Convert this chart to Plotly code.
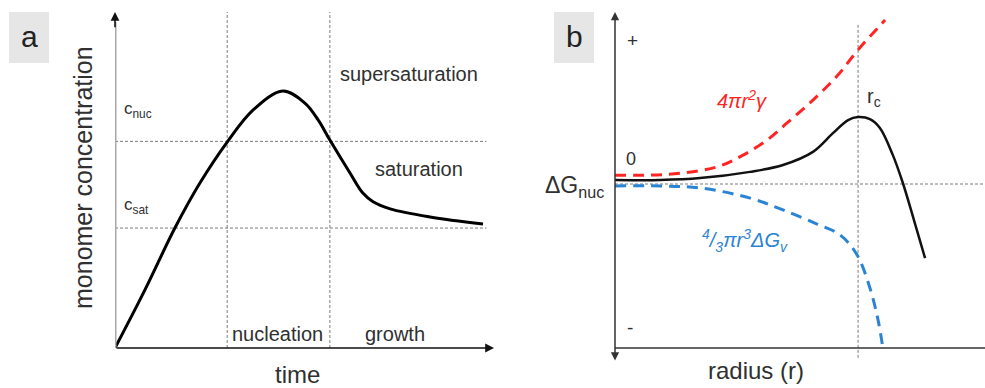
import plotly.graph_objects as go

W, H = 985, 388

# ---- panel a: monomer concentration versus time ----
time_a = [0, 0.79, 1.58, 2.24, 2.96, 3.64, 4.43, 5.01, 5.36, 5.67, 6.20, 6.54, 6.81, 7.26, 8.31, 9.71]
conc_a = [0, 1.73, 3.57, 4.91, 6.13, 7.08, 7.65, 7.29, 6.79, 6.19, 5.21, 4.61, 4.35, 4.14, 3.90, 3.69]
c_nuc = 6.15
c_sat = 3.57
t_nucleation = 2.96
t_growth = 5.67

# ---- panel b: free energy of nucleation versus radius ----
r_surface = [0, 0.95, 1.84, 2.76, 3.46, 4.11, 4.65, 5.35, 6.00, 6.57, 7.30]
g_surface = [0.27, 0.27, 0.34, 0.52, 0.88, 1.34, 1.86, 2.56, 3.29, 4.09, 5.00]

r_total = [0, 1.22, 2.30, 3.65, 4.54, 5.35, 5.89, 6.30, 6.57, 6.89, 7.16, 7.51, 7.78, 8.08, 8.38]
g_total = [0.12, 0.12, 0.18, 0.37, 0.58, 0.98, 1.55, 1.95, 2.04, 1.98, 1.71, 0.88, 0.03, -1.10, -2.26]

r_volume = [0, 1.22, 2.30, 3.65, 4.54, 5.46, 6.08, 6.54, 6.89, 7.11, 7.24]
g_volume = [-0.06, -0.06, -0.12, -0.43, -0.79, -1.22, -1.55, -2.16, -3.17, -4.15, -5.00]

r_critical = 6.57
g_floor = -5.0

RED = "#ff2424"
BLUE = "#2b83d3"
TEXT = "#303030"
FONT = "Liberation Sans"


def px(x):
    return x / W


def py(y):
    return 1 - y / H


fig = go.Figure()

fig.add_trace(go.Scatter(x=time_a, y=conc_a, mode="lines", line=dict(color="black", width=3, shape="spline"),
                         xaxis="x", yaxis="y", hoverinfo="skip"))
fig.add_trace(go.Scatter(x=r_surface, y=g_surface, mode="lines",
                         line=dict(color=RED, width=3, dash="11px,7px", shape="spline"),
                         xaxis="x2", yaxis="y2", hoverinfo="skip"))
fig.add_trace(go.Scatter(x=r_volume, y=g_volume, mode="lines",
                         line=dict(color=BLUE, width=3, dash="11px,7px", shape="spline"),
                         xaxis="x2", yaxis="y2", hoverinfo="skip"))
fig.add_trace(go.Scatter(x=r_total, y=g_total, mode="lines", line=dict(color="#111111", width=2.5, shape="spline"),
                         xaxis="x2", yaxis="y2", hoverinfo="skip"))

guide = dict(color="#7a7a7a", width=1, dash="3px,2px")
shapes = [
    # panel a guides
    dict(type="line", xref="x", yref="y", x0=0, x1=9.8, y0=c_nuc, y1=c_nuc, line=guide, layer="below"),
    dict(type="line", xref="x", yref="y", x0=0, x1=9.8, y0=c_sat, y1=c_sat, line=guide, layer="below"),
    dict(type="line", xref="x", yref="y", x0=t_nucleation, x1=t_nucleation, y0=0, y1=10, line=guide, layer="below"),
    dict(type="line", xref="x", yref="y", x0=t_growth, x1=t_growth, y0=0, y1=10, line=guide, layer="below"),
    # panel a vertical axis (grey shaft)
    dict(type="line", xref="x", yref="y", x0=0, x1=0, y0=0, y1=9.7, line=dict(color="#a8a8a8", width=3)),
    # panel b guides
    dict(type="line", xref="x2", yref="y2", x0=0, x1=10, y0=0, y1=0, line=guide, layer="below"),
    dict(type="line", xref="x2", yref="y2", x0=r_critical, x1=r_critical, y0=-5.3, y1=4.9, line=guide, layer="below"),
    # panel b horizontal axis
    dict(type="line", xref="x2", yref="y2", x0=0, x1=10, y0=g_floor, y1=g_floor, line=dict(color="#333333", width=1.5)),
    # label boxes
    dict(type="rect", xref="paper", yref="paper", x0=px(9), x1=px(49), y0=py(63), y1=py(12),
         fillcolor="#e6e6e6", line=dict(width=0), layer="below"),
    dict(type="rect", xref="paper", yref="paper", x0=px(554), x1=px(594), y0=py(63), y1=py(12),
         fillcolor="#e6e6e6", line=dict(width=0), layer="below"),
]

ann = []
# axis arrows
ann.append(dict(x=10, y=0, xref="x", yref="y", ax=0, ay=0, axref="x", ayref="y", text="", showarrow=True,
                arrowhead=2, arrowsize=1.1, arrowwidth=1.6, arrowcolor="#111111"))
ann.append(dict(x=0, y=10, xref="x", yref="y", ax=0, ay=9.5, axref="x", ayref="y", text="", showarrow=True,
                arrowhead=2, arrowsize=1.1, arrowwidth=1.6, arrowcolor="#111111"))
ann.append(dict(x=0, y=5.244, xref="x2", yref="y2", ax=0, ay=-5.427, axref="x2", ayref="y2", text="",
                showarrow=True, arrowhead=2, arrowside="end+start", arrowsize=1.1, arrowwidth=1.5,
                arrowcolor="#333333"))


def label(text, x, y, size, color=TEXT, xanchor="center", yanchor="middle", **kw):
    ann.append(dict(text=text, x=px(x), y=py(y), xref="paper", yref="paper", showarrow=False,
                    xanchor=xanchor, yanchor=yanchor,
                    font=dict(family=FONT, size=size, color=color), **kw))


label("a", 29, 36, 30, color="#222222")
label("b", 574, 36, 30, color="#222222")
label("monomer concentration", 83, 178, 25, textangle=-90)
label("time", 297, 374, 24)
label("radius (r)", 756, 370, 24)
label("c<sub>nuc</sub>", 122, 110, 17, xanchor="left")
label("c<sub>sat</sub>", 122, 206, 17, xanchor="left")
label("supersaturation", 409, 74, 20)
label("saturation", 419, 169, 20)
label("nucleation", 277, 334, 20)
label("growth", 395, 334, 20)
label("ΔG<sub>nuc</sub>", 606, 186, 23, xanchor="right")
label("+", 632, 41, 19)
label("0", 631, 159, 18)
label("-", 630, 327, 19)
label("<i>4πr<sup>2</sup>γ</i>", 742, 100, 20, color=RED)
label("r<sub>c</sub>", 874, 97, 20)
label("<i><sup>4</sup>/<sub>3</sub>πr<sup>3</sup>ΔG<sub>v</sub></i>", 745, 240, 20, color=BLUE)

hidden = dict(visible=False, showgrid=False, zeroline=False, fixedrange=True)
fig.update_layout(
    width=W, height=H,
    margin=dict(l=0, r=0, t=0, b=0),
    paper_bgcolor="white", plot_bgcolor="rgba(0,0,0,0)",
    showlegend=False,
    xaxis=dict(domain=[px(115), px(494)], range=[0, 10], anchor="y", **hidden),
    yaxis=dict(domain=[py(348), py(12)], range=[0, 10], anchor="x", **hidden),
    xaxis2=dict(domain=[px(615), 1.0], range=[0, 10], anchor="y2", **hidden),
    yaxis2=dict(domain=[py(362), py(12)], range=[-5.427, 5.244], anchor="x2", **hidden),
    shapes=shapes,
    annotations=ann,
    font=dict(family=FONT, color=TEXT),
)

fig.write_html("out.html")
